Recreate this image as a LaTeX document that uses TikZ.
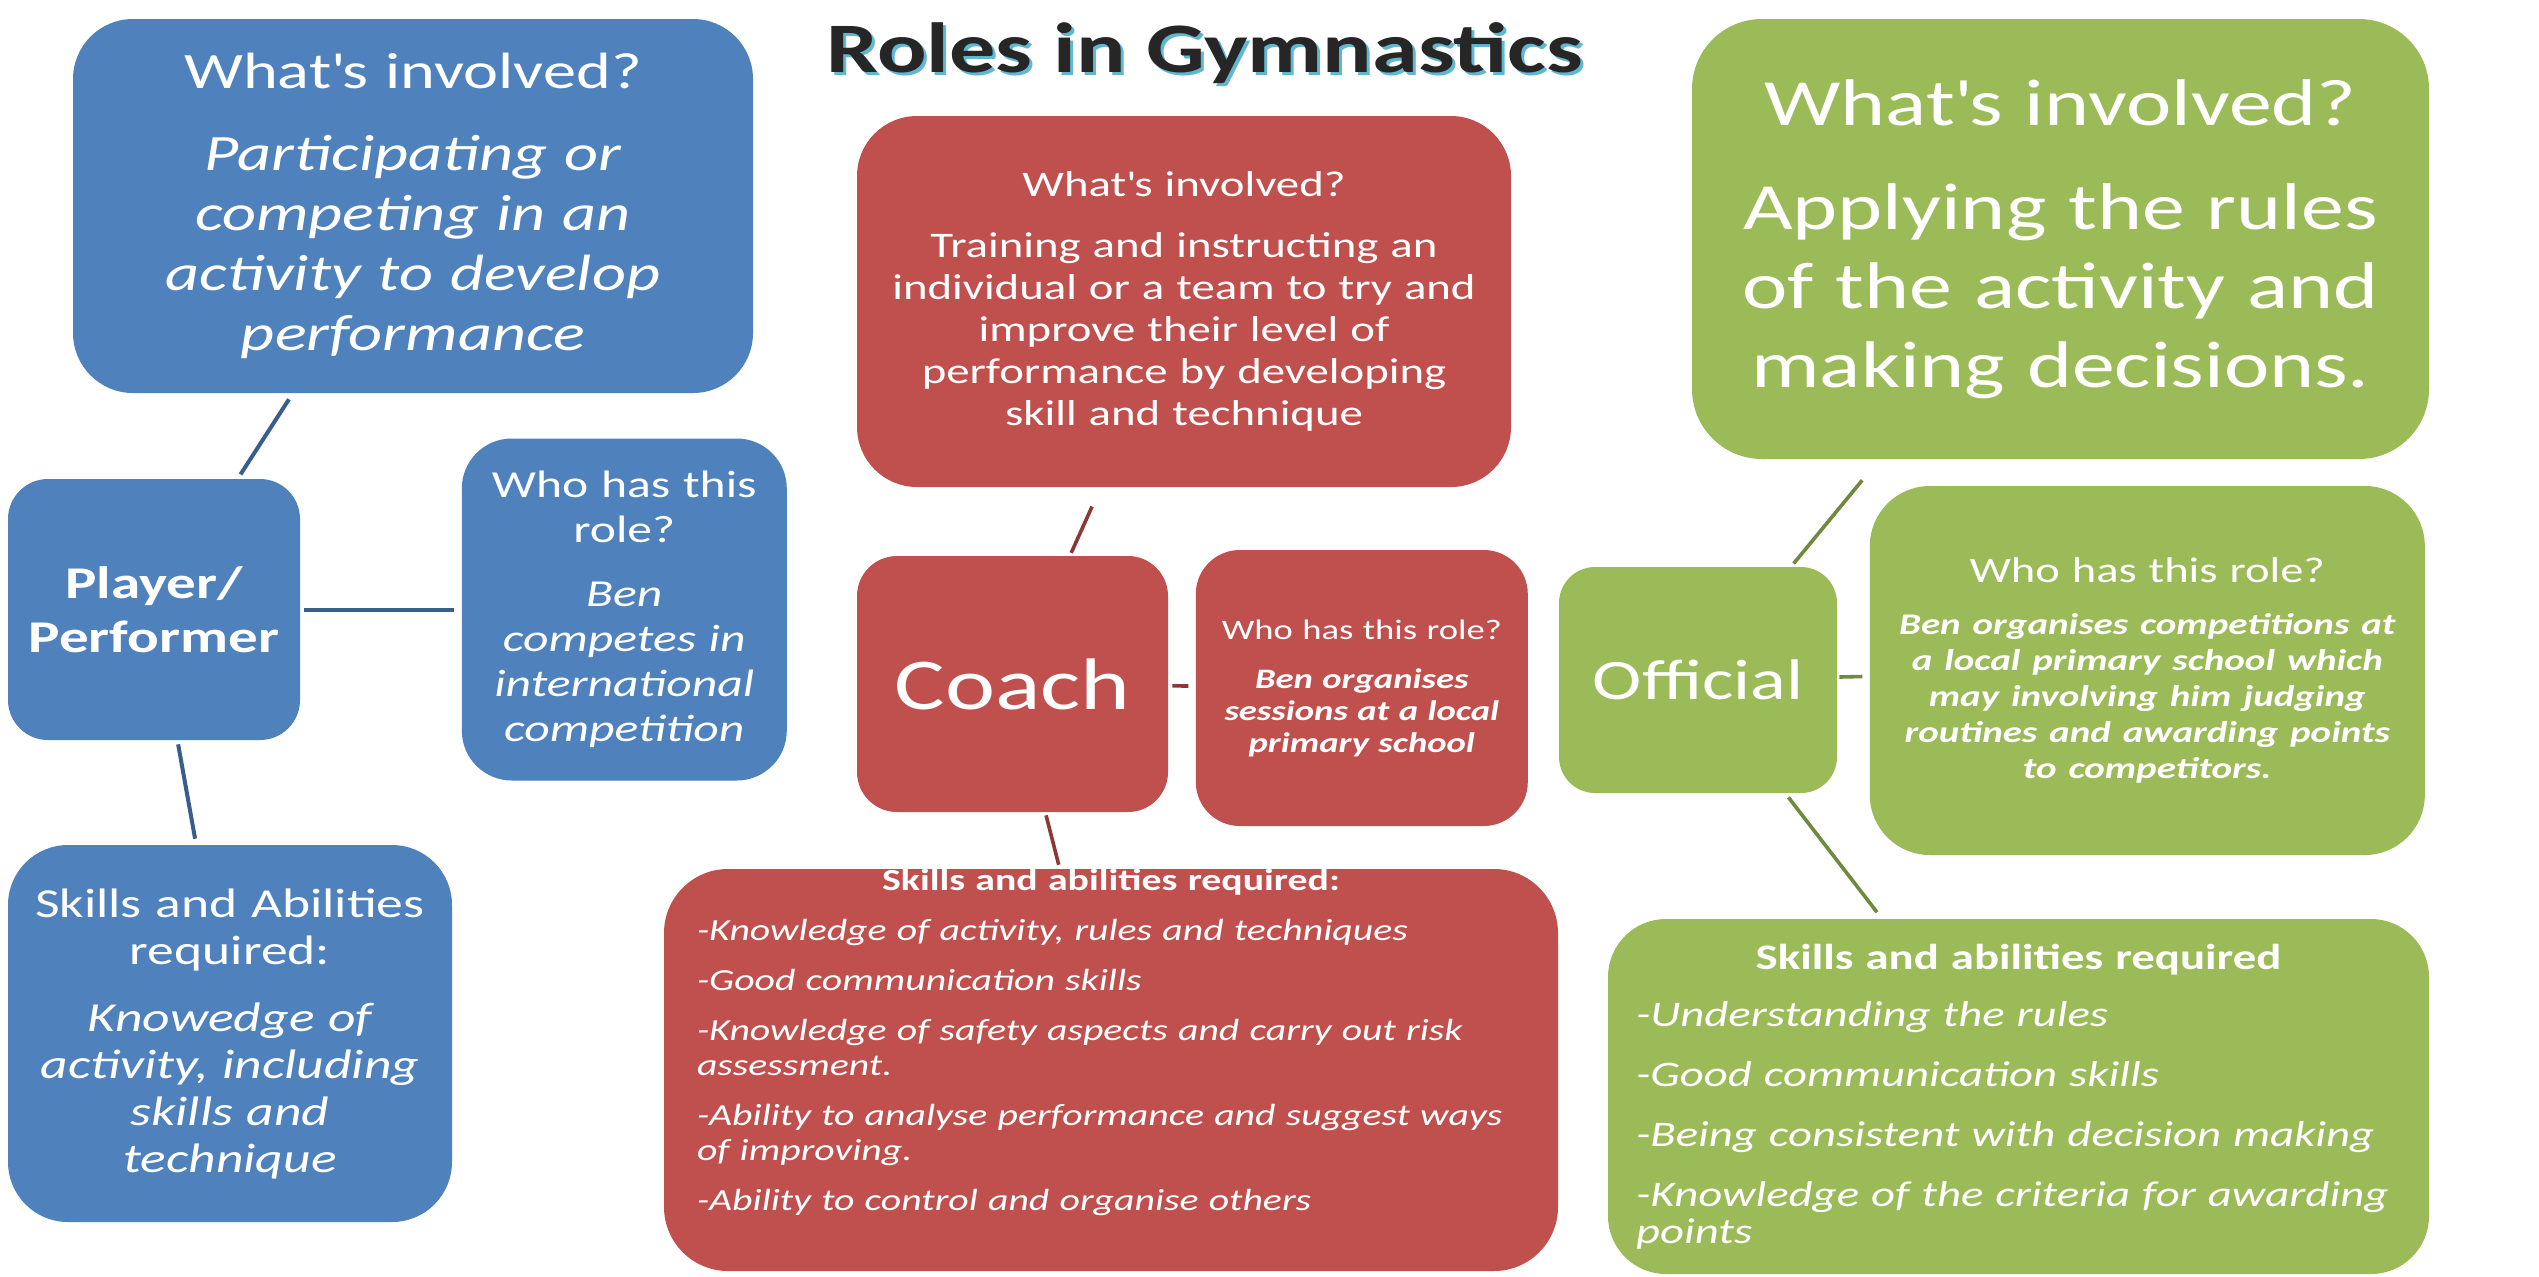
\documentclass[tikz,border=0pt]{standalone}
\usepackage{fontspec}
\setmainfont{Carlito}[FakeStretch=1.3]
\usepackage{tikz}
\usetikzlibrary{positioning}
\definecolor{plblue}{HTML}{4F81BD}
\definecolor{plline}{HTML}{3A5E8C}
\definecolor{cored}{HTML}{C0504D}
\definecolor{coline}{HTML}{8C3836}
\definecolor{ofgreen}{HTML}{9BBB59}
\definecolor{ofline}{HTML}{71893F}
\definecolor{ink}{HTML}{262626}
\definecolor{aqua}{HTML}{5FB7D2}
\newcommand{\fsz}[2]{\fontsize{#1}{#2}\selectfont}
\newcommand{\whats}{What\textquotesingle s involved?}
\tikzset{
  box/.style={text=white,align=center,inner sep=0pt},
  boxb/.style={box,fill=plblue},
  boxr/.style={box,fill=cored},
  boxg/.style={box,fill=ofgreen},
  lnb/.style={line width=2pt,draw=plline},
  lnr/.style={line width=1.8pt,draw=coline},
  lng/.style={line width=1.8pt,draw=ofline},
  head/.style={font=\fsz{35.5}{40}\bfseries,inner sep=0pt,anchor=base},
}

\begin{document}
\begin{tikzpicture}[x=0.5pt,y=-0.5pt]
\fill[white] (0,0) rectangle (2539,1276);
\useasboundingbox (0,0) rectangle (2539,1276);
% title with its shadow
\node[head,text=aqua] (shade) at (1208,75) {Roles in Gymnastics};
\node[head,text=ink] (title) at (1205,72) {Roles in Gymnastics};
% player / performer
\node[boxb,minimum width=146pt,minimum height=130.5pt,rounded corners=20pt,text width=140pt,font=\fsz{22.7}{27}\bfseries] (player) at (154,609.5) {Player/\\Performer};
\node[boxb,minimum width=340pt,minimum height=187pt,rounded corners=30pt,text width=320pt,font=\fsz{25.5}{30}] (ptop) at (413,206) {\whats\\[11pt]\itshape Participating or\\competing in an\\activity to develop\\performance};
\node[boxb,right=80.5pt of player,minimum width=162.5pt,minimum height=171pt,rounded corners=25pt,text width=150pt,font=\fsz{19.1}{22.5}] (pwho) {Who has this\\role?\\[9.5pt]\itshape Ben\\competes in\\international\\competition};
\node[boxb,minimum width=222pt,minimum height=188.5pt,rounded corners=30pt,text width=210pt,font=\fsz{20.6}{23.5}] (pskill) at (230,1033.5) {Skills and Abilities\\required:\\[10pt]\itshape Knowedge of\\activity, including\\skills and\\technique};
\draw[lnb,shorten <=3.5pt,shorten >=2.5pt] (ptop) -- (player);
\draw[lnb,shorten <=2pt,shorten >=3.5pt] (player) -- (pwho);
\draw[lnb,shorten <=2pt,shorten >=3pt] (player) -- (pskill);
% coach
\node[boxr,minimum width=327pt,minimum height=185.5pt,rounded corners=30pt,text width=315pt,font=\fsz{18}{21}] (ctop) at (1184,301.5) {\whats\\[9.5pt]Training and instructing an\\individual or a team to try and\\improve their level of\\performance by developing\\skill and technique};
\node[boxr,minimum width=155.5pt,minimum height=128pt,rounded corners=20pt,font=\fsz{36.5}{40}] (coach) at (1012.5,684) {Coach};
\node[boxr,right=13.5pt of coach,yshift=-2pt,minimum width=166pt,minimum height=138pt,rounded corners=22pt,text width=156pt,font=\fsz{14.1}{16}] (cwho) {Who has this role?\\[8.5pt]\bfseries\itshape Ben organises\\sessions at a local\\primary school};
\node[boxr,minimum width=447pt,minimum height=201pt,rounded corners=32pt,text width=414pt,align=left,font=\fsz{15.3}{17.5}] (cskill) at (1111,1070) {\makebox[\linewidth]{\bfseries Skills and abilities required:}\\[7.5pt]\itshape -Knowledge of activity, rules and techniques\\[7.5pt]-Good communication skills\\[7.5pt]-Knowledge of safety aspects and carry out risk\\assessment.\\[7.5pt]-Ability to analyse performance and suggest ways\\of improving.\\[7.5pt]-Ability to control and organise others\\[12.5pt]\mbox{}};
\draw[lnr,shorten <=10.5pt,shorten >=1.5pt] (ctop) -- (coach);
\draw[lnr,shorten <=2pt,shorten >=3.5pt] (coach) -- (cwho);
\draw[lnr,shorten <=1.5pt,shorten >=2pt] (coach) -- (cskill);
% official
\node[boxg,minimum width=368.5pt,minimum height=220pt,rounded corners=35pt,text width=355pt,font=\fsz{33}{39.5}] (otop) at (2060.5,239) {\whats\\[12.5pt]Applying the rules\\of the activity and\\making decisions.};
\node[boxg,minimum width=139pt,minimum height=113pt,rounded corners=18pt,font=\fsz{28.6}{32}] (official) at (1698,680) {Official};
\node[boxg,right=16pt of official,yshift=4.75pt,minimum width=277.5pt,minimum height=184.5pt,rounded corners=30pt,text width=265pt,font=\fsz{17.9}{18}] (owho) {Who has this role?\\[8pt]\fsz{15}{18}\bfseries\itshape Ben organises competitions at\\a local primary school which\\may involving him judging\\routines and awarding points\\to competitors.};
\node[boxg,minimum width=410.5pt,minimum height=177.5pt,rounded corners=29pt,text width=382.5pt,align=left,font=\fsz{18}{18.5}] (oskill) at (2018.5,1096.5) {\makebox[\linewidth]{\bfseries Skills and abilities required}\\[10pt]\itshape -Understanding the rules\\[11.5pt]-Good communication skills\\[11.5pt]-Being consistent with decision making\\[11.5pt]-Knowledge of the criteria for awarding\\points};
\draw[lng,shorten <=13.5pt,shorten >=2pt] (otop) -- (official);
\draw[lng,shorten <=1pt,shorten >=3.5pt] (official) -- (owho);
\draw[lng,shorten <=2.5pt,shorten >=4pt] (official) -- (oskill);
\end{tikzpicture}
\end{document}
